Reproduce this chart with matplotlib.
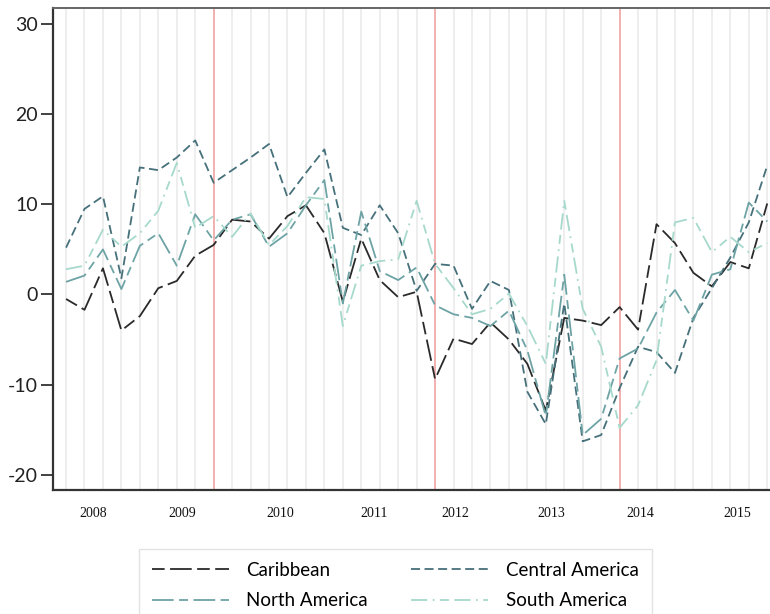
import numpy as np
import matplotlib
matplotlib.use("Agg")
import matplotlib.pyplot as plt

# quarterly growth series
caribbean = [-0.5, -1.7, 2.9, -4.0, -2.4, 0.7, 1.5, 4.3, 5.5, 8.3,
             8.1, 6.2, 8.7, 9.9, 6.8, -0.8, 6.2, 1.6, -0.3, 0.3,
             -9.4, -4.9, -5.5, -3.1, -5.0, -7.7, -12.9, -2.6, -2.9, -3.4,
             -1.4, -3.9, 7.8, 5.7, 2.4, 0.9, 3.6, 2.9, 10.1]
central_america = [5.2, 9.5, 10.9, 1.8, 14.1, 13.8, 15.2, 17.1, 12.4, 13.8,
                   15.2, 16.7, 10.8, 13.5, 16.1, 7.4, 6.6, 9.9, 6.8, 0.4,
                   3.4, 3.2, -1.6, 1.5, 0.5, -10.8, -14.4, -1.0, -16.3, -15.6,
                   -10.4, -5.8, -6.4, -8.7, -2.6, 0.7, 4.1, 8.0, 14.3]
north_america = [1.4, 2.1, 5.0, 0.6, 5.4, 6.8, 3.2, 8.9, 6.0, 8.3,
                 8.9, 5.3, 6.8, 9.9, 12.7, -1.0, 9.2, 2.6, 1.6, 3.0,
                 -1.2, -2.2, -2.6, -3.5, -1.8, -6.2, -13.5, 2.2, -15.6, -13.8,
                 -7.1, -6.0, -2.0, 0.5, -2.9, 2.2, 2.8, 10.2, 8.1]
south_america = [2.8, 3.2, 7.2, 5.3, 6.8, 9.3, 14.6, 7.4, 8.7, 6.4,
                 9.0, 5.5, 7.6, 10.8, 10.6, -3.5, 3.2, 3.7, 3.9, 10.4,
                 3.4, 0.7, -2.2, -1.6, 0.1, -3.5, -7.7, 10.4, -1.6, -5.8,
                 -14.8, -12.3, -7.3, 8.0, 8.5, 4.7, 6.4, 4.7, 5.7]

# break points (period index) and year labels
breaks = [8, 20, 30]
year_labels = ["2008", "2009", "2010", "2011", "2012", "2013", "2014", "2015"]
year_pos = [1.45, 6.3, 11.6, 16.7, 21.1, 26.3, 31.1, 36.4]
y_ticks = [-20, -10, 0, 10, 20, 30]

x = np.arange(len(caribbean))

fig = plt.figure(figsize=(7.7, 6.14), dpi=100, facecolor="white")
ax = fig.add_axes([0.069, 0.202, 0.931, 0.785])

# background period grid
for xi in x:
    ax.axvline(xi, color="#ededed", lw=1.3, zorder=0)
for b in breaks:
    ax.axvline(b, color="#f4a6a6", lw=1.2, zorder=1)

series = [
    ("Caribbean", caribbean, "#2a2a2a", (0, (7, 3, 12, 3))),
    ("Central America", central_america, "#46707a", (0, (5, 2.5))),
    ("North America", north_america, "#6ea3a5", (0, (12, 3, 5, 3))),
    ("South America", south_america, "#a6d9cc", (0, (9, 3, 1, 3, 5, 3))),
]
handles = {}
for name, vals, col, ls in series:
    line, = ax.plot(x, vals, color=col, lw=1.3, linestyle=ls, label=name, zorder=3)
    handles[name] = line

ax.set_xlim(-0.7, 38.15)
ax.set_ylim(-21.7, 31.8)

ax.set_yticks(y_ticks)
ax.set_yticklabels([str(v) for v in y_ticks], fontsize=14, family="Lato", color="#222222")
ax.tick_params(axis="y", length=9, width=1.3, color="#333333", pad=2)

ax.set_xticks(year_pos)
ax.set_xticklabels(year_labels, fontsize=10, family="Liberation Serif",
                   color="#111111")
ax.tick_params(axis="x", length=0, pad=12)

ax.spines["right"].set_visible(False)
ax.spines["left"].set_color("#333333")
ax.spines["left"].set_linewidth(1.6)
ax.spines["bottom"].set_color("#333333")
ax.spines["bottom"].set_linewidth(1.6)
ax.spines["top"].set_color("#666666")
ax.spines["top"].set_linewidth(1.4)

# row-wise legend: matplotlib fills columns first
order = ["Caribbean", "North America", "Central America", "South America"]
leg = fig.legend([handles[n] for n in order], order, ncol=2,
                 loc="upper left", bbox_to_anchor=(0.180, 0.106),
                 prop={"family": "Lato", "size": 13.5},
                 handlelength=4.1, handletextpad=0.95, columnspacing=2.3,
                 labelspacing=0.7, borderpad=0.7, borderaxespad=0,
                 fancybox=False, frameon=True)
leg.get_frame().set_edgecolor("#dddddd")
leg.get_frame().set_linewidth(1.0)

fig.savefig("out.png", dpi=100, facecolor="white")
